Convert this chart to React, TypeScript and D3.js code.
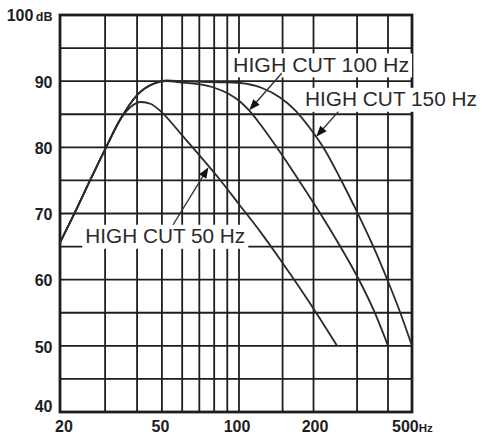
// @ts-nocheck
import * as d3 from "d3";

const width = 482;
const height = 439;

// axes
const yGrid = [40, 45, 50, 55, 60, 65, 70, 75, 80, 85, 90, 95, 100];
const yTicks = [40, 50, 60, 70, 80, 90, 100];
const xGrid = [20, 30, 40, 50, 60, 70, 80, 90, 100, 150, 200, 300, 400, 500];
const xTicks = [20, 50, 100, 200, 500];

// response curves (Hz, dB)
const cut50Freq = [20, 22.9, 26.2, 30, 34.6, 37.5, 41.4, 45.3, 49.6, 59.4, 70.4, 84.3, 100, 121.6, 146.4, 176.4, 212.5, 249];
const cut50Db = [65.6, 70.2, 75.0, 79.7, 84.4, 86.0, 86.85, 86.55, 85.4, 82.0, 78.7, 75.1, 71.4, 67.3, 63.1, 58.7, 54.1, 50];

const cut100Freq = [20, 22.9, 26.2, 30, 34.6, 40, 47, 52, 59.9, 70.4, 80.6, 90.6, 100.9, 110.8, 121.6, 146.4, 176.4, 212.5, 255.9, 302.6, 351.2, 400];
const cut100Db = [65.6, 70.2, 75.0, 79.7, 84.4, 87.9, 89.7, 90.0, 89.8, 89.5, 88.97, 88.14, 86.93, 85.42, 83.53, 79.3, 74.76, 70.08, 65.09, 60.25, 55.27, 50];

const cut150Freq = [20, 22.9, 26.2, 30, 34.6, 40, 47, 52, 59.9, 70.4, 84.3, 100.9, 123.9, 146.4, 168.4, 193.6, 222.6, 255.9, 299.8, 347.9, 396.3, 447.2, 500];
const cut150Db = [65.6, 70.2, 75.0, 79.7, 84.4, 87.9, 89.7, 90.1, 90.0, 89.9, 89.83, 89.72, 88.97, 87.53, 85.64, 82.89, 79.57, 75.37, 70.23, 65.09, 60.1, 55.12, 50];

// annotations (Hz, dB)
const labelText = ["HIGH CUT 50 Hz", "HIGH CUT 100 Hz", "HIGH CUT 150 Hz"];
const labelFreq = [25.1, 94.8, 184.8];
const labelDb = [65.5, 91.4, 86.2];
const arrowFromFreq = [55.3, 148.8, 251.9];
const arrowFromDb = [68.3, 91.2, 85.4];
const arrowToFreq = [76, 110, 205];
const arrowToDb = [77.0, 85.6, 81.6];

const labelWidths = [160, 176, 172];

const ink = "#1e1e1e";
const font = "'Liberation Sans', Arial, sans-serif";

const App = () => {
    const x = d3.scaleLog().domain([20, 100, 500]).range([60, 239, 412]);
    const y = d3.scaleLinear().domain([40, 100]).range([412, 15]);

    const line = d3
        .line()
        .x((d) => x(d[0]))
        .y((d) => y(d[1]))
        .curve(d3.curveMonotoneX);

    const series = [
        d3.zip(cut50Freq, cut50Db),
        d3.zip(cut100Freq, cut100Db),
        d3.zip(cut150Freq, cut150Db),
    ];

    const arrowHead = (x1, y1, x2, y2) => {
        const len = Math.hypot(x2 - x1, y2 - y1);
        const ux = (x2 - x1) / len;
        const uy = (y2 - y1) / len;
        const L = 11;
        const w = 4.2;
        const bx = x2 - ux * L;
        const by = y2 - uy * L;
        return {
            pts: `${x2},${y2} ${bx - uy * w},${by + ux * w} ${bx + uy * w},${by - ux * w}`,
            end: [x2 - ux * L * 0.6, y2 - uy * L * 0.6],
        };
    };

    const xLabelShift = { 20: 4, 50: -1.5, 100: -2, 200: 1.5 };

    return (
        <svg
            width={width}
            height={height}
            style={{ position: "absolute", left: 0, top: 0, background: "#fff" }}
            fontFamily={font}
        >
            {/* grid */}
            {yGrid.map((v) => (
                <line key={`h-${v}`} x1={x(20)} x2={x(500)} y1={y(v)} y2={y(v)} stroke={ink} strokeWidth={1.8} />
            ))}
            {xGrid.map((v) => (
                <line key={`v-${v}`} x1={x(v)} x2={x(v)} y1={y(40)} y2={y(100)} stroke={ink} strokeWidth={1.8} />
            ))}
            <rect x={x(20)} y={y(100)} width={x(500) - x(20)} height={y(40) - y(100)} fill="none" stroke={ink} strokeWidth={2.8} />

            {/* curves */}
            {series.map((s, i) => (
                <path key={`c-${i}`} d={line(s)} fill="none" stroke="#2a2a2a" strokeWidth={1.8} />
            ))}

            {/* labels */}
            {labelText.map((t, i) => {
                const lx = x(labelFreq[i]);
                const ly = y(labelDb[i]);
                return (
                    <g key={`l-${i}`}>
                        <rect x={lx - 3} y={ly - 18.5} width={labelWidths[i] + 6} height={24} fill="#fff" />
                        <text
                            x={lx}
                            y={ly}
                            fontSize={20.5}
                            fill="#2a2a2a"
                            textLength={labelWidths[i]}
                            lengthAdjust="spacingAndGlyphs"
                        >
                            {t}
                        </text>
                    </g>
                );
            })}

            {/* arrows */}
            {labelText.map((t, i) => {
                const x1 = x(arrowFromFreq[i]);
                const y1 = y(arrowFromDb[i]);
                const x2 = x(arrowToFreq[i]);
                const y2 = y(arrowToDb[i]);
                const h = arrowHead(x1, y1, x2, y2);
                return (
                    <g key={`a-${i}`}>
                        <line x1={x1} y1={y1} x2={h.end[0]} y2={h.end[1]} stroke="#333" strokeWidth={1.4} />
                        <polygon points={h.pts} fill="#111" />
                    </g>
                );
            })}

            {/* y tick labels */}
            {yTicks.map((v) => (
                <text
                    key={`yt-${v}`}
                    x={52.5}
                    y={y(v) + (v === 40 ? -0.5 : v === 100 ? 6 : 6.8)}
                    textAnchor="end"
                    fontSize={16}
                    fontWeight="bold"
                    fill={ink}
                >
                    {v}
                    {v === 100 && (
                        <tspan dx={2.5} fontSize={12.5}>
                            dB
                        </tspan>
                    )}
                </text>
            ))}

            {/* x tick labels */}
            {xTicks.map((v) =>
                v === 500 ? (
                    <text key={`xt-${v}`} x={x(v) - 20} y={431.5} fontSize={16} fontWeight="bold" fill={ink}>
                        {v}
                        <tspan fontSize={11.5}>Hz</tspan>
                    </text>
                ) : (
                    <text
                        key={`xt-${v}`}
                        x={x(v) + xLabelShift[v]}
                        y={431.5}
                        textAnchor="middle"
                        fontSize={16}
                        fontWeight="bold"
                        fill={ink}
                    >
                        {v}
                    </text>
                )
            )}
        </svg>
    );
};

export default App;
